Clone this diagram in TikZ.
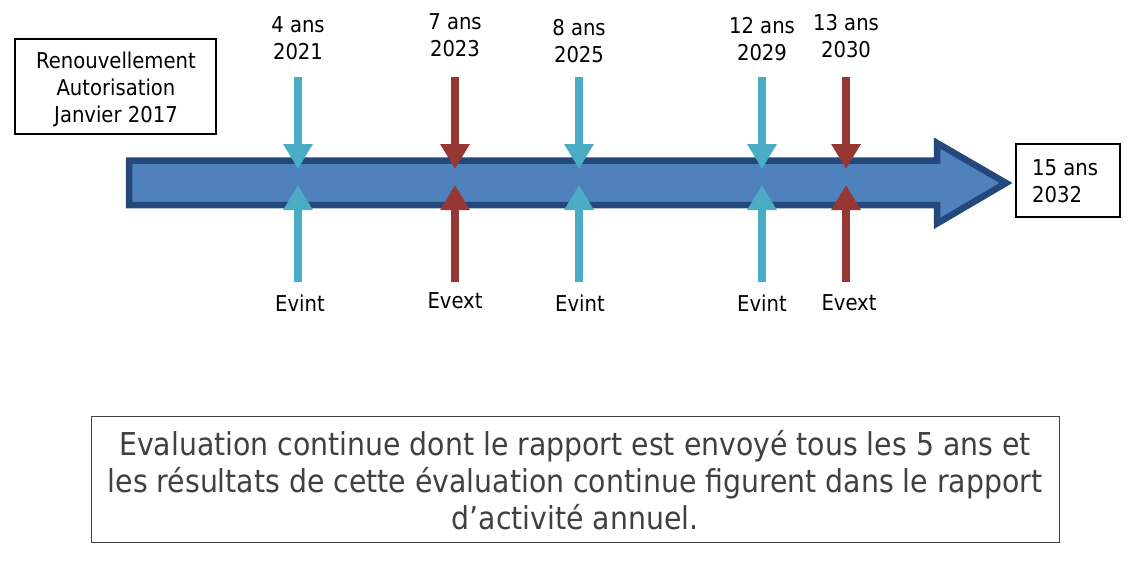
\documentclass[tikz,border=0pt]{standalone}
\usepackage{fontspec}
\setmainfont{DejaVu Sans Condensed}
\usetikzlibrary{arrows.meta}
\definecolor{bigfill}{RGB}{79,129,189}
\definecolor{bigline}{RGB}{36,72,124}
\definecolor{cyanar}{RGB}{75,172,198}
\definecolor{redar}{RGB}{150,55,52}
\definecolor{graytxt}{RGB}{64,64,64}
\begin{document}
\begin{tikzpicture}[x=1pt,y=-1pt,
  lbl/.style={font=\fontsize{21.8}{27}\selectfont, align=center, inner sep=0pt},
  boxed/.style={draw=black, line width=1.5pt, inner sep=0pt},
  cyanarrow/.style={draw=cyanar, line width=8pt, -{Triangle[width=28pt,length=25pt]}},
  redarrow/.style={draw=redar, line width=8pt, -{Triangle[width=28pt,length=25pt]}},
]
\useasboundingbox (0,0) rectangle (1145,571);
\fill[white] (0,0) rectangle (1145,571);

% left box
\node[boxed, minimum width=201pt, minimum height=95pt] (start) at (115.5,86.5) {};
\node[lbl] (starttxt) at (116,89.5) {Renouvellement\\Autorisation\\Janvier 2017};

% big arrow
\draw[fill=bigfill, draw=bigline, line width=6.5pt, line join=miter]
  (129,160.5) -- (937,160.5) -- (937,143) -- (1006,183) -- (937,223.5) -- (937,205) -- (129,205) -- cycle;

% right box
\node[boxed, minimum width=104pt, minimum height=73pt] (end) at (1068,180.5) {};
\node[lbl, align=left, anchor=west] (endtxt) at (1032,181.5) {15 ans\\2032};

% markers
\foreach \n/\x/\yt/\top/\bot/\st in {a/298/38.5/4 ans/2021/cyanarrow, b/455/35.5/7 ans/2023/redarrow, c/579/41.5/8 ans/2025/cyanarrow, d/762/39/12 ans/2029/cyanarrow, e/846/36/13 ans/2030/redarrow}{
  \node[lbl] (t\n) at (\x,\yt) {\top\\\bot};
  \coordinate (ts\n) at (\x,77);
  \coordinate (tt\n) at (\x,169);
  \coordinate (bs\n) at (\x,282);
  \coordinate (bt\n) at (\x,185);
  \draw[\st] (ts\n) -- (tt\n);
  \draw[\st] (bs\n) -- (bt\n);
}
\node[lbl] (la) at (300,303) {Evint};
\node[lbl] (lb) at (455,301) {Evext};
\node[lbl] (lc) at (580,303) {Evint};
\node[lbl] (ld) at (762,303) {Evint};
\node[lbl] (le) at (849,303) {Evext};

% bottom box
\node[draw=graytxt, line width=1pt, minimum width=968pt, minimum height=126pt, inner sep=0pt] (note) at (575,479) {};
\node[font=\fontsize{31.5}{37}\selectfont, text=graytxt, align=center, inner sep=0pt] (notetxt) at (575,480)
  {Evaluation continue dont le rapport est envoyé tous les 5 ans et\\les résultats de cette évaluation continue figurent dans le rapport\\d’activité annuel.};
\end{tikzpicture}
\end{document}
